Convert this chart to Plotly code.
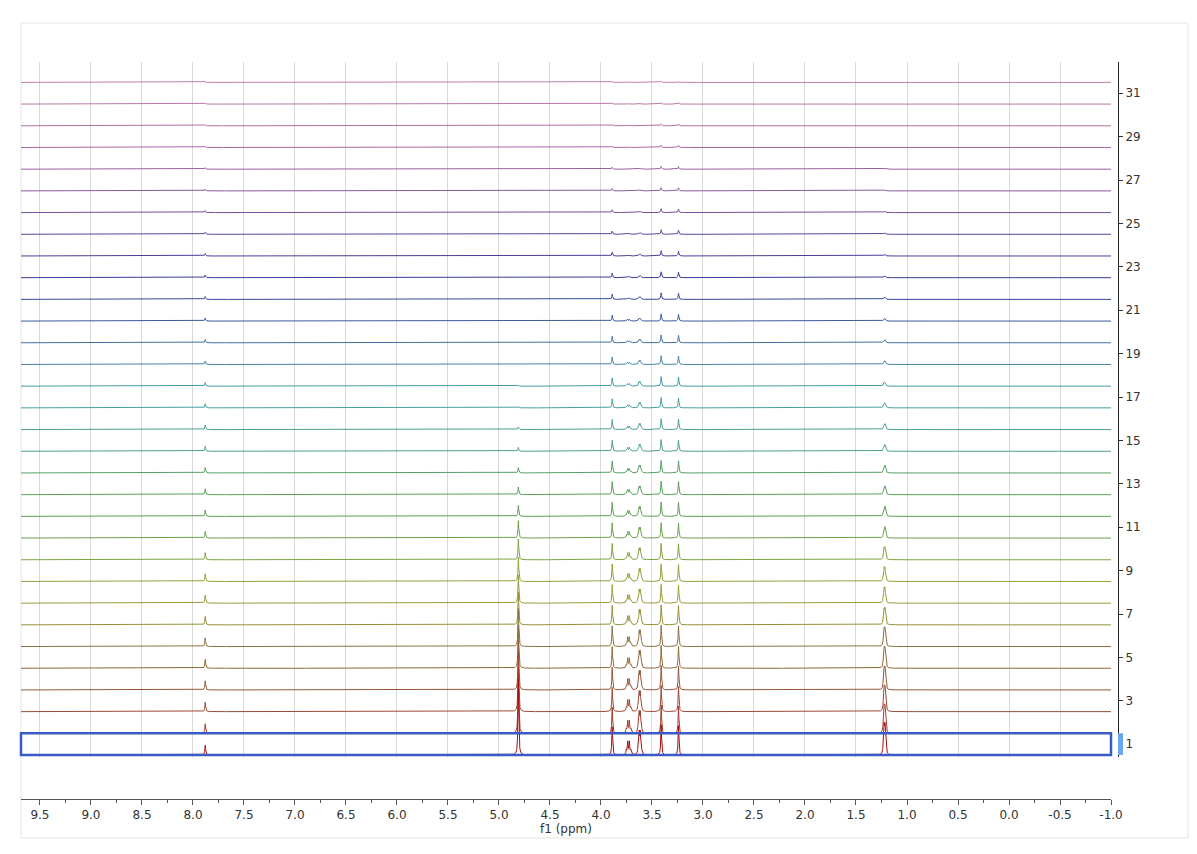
import numpy as np
import plotly.graph_objects as go

# peak centres (ppm) of the stacked 1H spectra
peak_ppm = [7.88, 4.81, 3.89, 3.73, 3.62, 3.41, 3.24, 1.22]

# peak heights per spectrum (1..32), in units of the stacking offset
h_788 = [0.45, 0.44, 0.43, 0.42, 0.41, 0.40, 0.39, 0.37, 0.35, 0.33, 0.31, 0.29, 0.27, 0.25, 0.23, 0.21,
         0.19, 0.17, 0.16, 0.15, 0.14, 0.13, 0.12, 0.11, 0.10, 0.09, 0.08, 0.07, 0.06, 0.05, 0.05, 0.04]
h_481 = [3.5, 3.05, 2.65, 2.3, 2.0, 1.75, 1.5, 1.3, 1.12, 0.95, 0.8, 0.5, 0.35, 0.25, 0.18, 0.12,
         0.07, 0.04, 0.02, 0.01, 0.0, 0.0, 0.0, 0.0, 0.0, 0.0, 0.0, 0.0, 0.0, 0.0, 0.0, 0.0]
h_389 = [1.3, 1.2, 1.12, 1.05, 1.0, 0.95, 0.9, 0.85, 0.8, 0.75, 0.7, 0.65, 0.6, 0.55, 0.5, 0.46,
         0.42, 0.38, 0.34, 0.3, 0.27, 0.24, 0.21, 0.18, 0.15, 0.13, 0.11, 0.09, 0.07, 0.06, 0.05, 0.04]
h_373 = [0.65, 0.6, 0.56, 0.52, 0.48, 0.45, 0.42, 0.39, 0.36, 0.33, 0.3, 0.27, 0.24, 0.21, 0.18, 0.16,
         0.14, 0.12, 0.1, 0.09, 0.08, 0.07, 0.06, 0.05, 0.04, 0.035, 0.03, 0.025, 0.02, 0.02, 0.015, 0.015]
h_362 = [1.15, 1.05, 0.97, 0.9, 0.83, 0.77, 0.71, 0.65, 0.6, 0.55, 0.5, 0.45, 0.4, 0.36, 0.32, 0.28,
         0.25, 0.22, 0.19, 0.16, 0.14, 0.12, 0.1, 0.085, 0.07, 0.06, 0.05, 0.04, 0.035, 0.03, 0.025, 0.02]
h_341 = [1.4, 1.3, 1.2, 1.12, 1.05, 0.98, 0.92, 0.86, 0.8, 0.75, 0.7, 0.66, 0.62, 0.58, 0.54, 0.5,
         0.47, 0.44, 0.4, 0.36, 0.33, 0.3, 0.27, 0.24, 0.21, 0.18, 0.15, 0.13, 0.11, 0.09, 0.07, 0.06]
h_324 = [1.35, 1.25, 1.16, 1.08, 1.01, 0.95, 0.89, 0.83, 0.78, 0.73, 0.68, 0.64, 0.6, 0.56, 0.52, 0.48,
         0.45, 0.42, 0.38, 0.34, 0.31, 0.28, 0.25, 0.22, 0.19, 0.16, 0.14, 0.12, 0.1, 0.08, 0.07, 0.05]
h_122 = [1.5, 1.35, 1.22, 1.1, 1.0, 0.9, 0.82, 0.75, 0.68, 0.6, 0.53, 0.47, 0.41, 0.36, 0.31, 0.27,
         0.23, 0.2, 0.17, 0.14, 0.12, 0.1, 0.08, 0.07, 0.06, 0.05, 0.04, 0.035, 0.03, 0.025, 0.02, 0.02]
heights = [h_788, h_481, h_389, h_373, h_362, h_341, h_324, h_122]

# multiplet line offsets (ppm) and relative intensities
mult_offsets = [[0], [0], [0], [-0.022, -0.008, 0.008, 0.022], [-0.016, -0.005, 0.005, 0.016], [0], [0],
                [-0.012, -0.004, 0.004, 0.012]]
mult_weights = [[1], [1], [1], [1, 3, 3, 1], [1, 3, 3, 1], [1], [1], [1, 3, 3, 1]]

spectrum_labels = [str(i) for i in range(1, 33)]
y_tick_labels = [str(i) for i in range(1, 32, 2)]
x_tick_vals = [9.5, 9.0, 8.5, 8.0, 7.5, 7.0, 6.5, 6.0, 5.5, 5.0, 4.5, 4.0, 3.5, 3.0, 2.5, 2.0, 1.5, 1.0,
               0.5, 0.0, -0.5, -1.0]
x_tick_labels = ['%.1f' % v for v in x_tick_vals]

colors = ['#a50d0d', '#a03a2a', '#9a4a36', '#95553a', '#8f6a3a', '#8a7040', '#959035', '#9a9a38',
          '#8ea33a', '#7ea33f', '#6aa048', '#5e9e52', '#58a05a', '#55a065', '#4fa080', '#48a090',
          '#45a0a0', '#4598a8', '#4585a5', '#4070a0', '#3a5a9c', '#35489a', '#383c98', '#4a3c9a',
          '#5a449c', '#70509e', '#8a5aa0', '#9a60a0', '#a868a2', '#b070a2', '#b878a5', '#c080a8']

# ppm grid: coarse everywhere, fine around the peaks
grid = [np.arange(-1.0, 9.7, 0.01)]
for c in peak_ppm:
    grid.append(np.arange(c - 0.12, c + 0.12, 0.001))
ppm = np.unique(np.round(np.concatenate(grid), 4))[::-1]

# normalised line shape of each multiplet (Lorentzian lines)
lw = 0.0045
shapes_norm = []
for c, offs, wts in zip(peak_ppm, mult_offsets, mult_weights):
    s = np.zeros_like(ppm)
    for o, w in zip(offs, wts):
        s += w * lw ** 2 / ((ppm - c - o) ** 2 + lw ** 2)
    shapes_norm.append(s / s.max())

fig = go.Figure()

# draw the top spectrum first so lower ones sit on top
for k in range(31, -1, -1):
    y = np.full_like(ppm, float(k))
    for p in range(len(peak_ppm)):
        y = y + heights[p][k] * shapes_norm[p]
    fig.add_trace(go.Scatter(x=ppm, y=y, mode='lines', name=spectrum_labels[k],
                             line=dict(color=colors[k], width=1), hoverinfo='skip'))

# the page body adds 8px around the figure, so margins are 8px smaller
fig.update_layout(
    width=1197, height=854,
    margin=dict(l=13, r=87, t=54, b=63),
    paper_bgcolor='white', plot_bgcolor='white',
    showlegend=False,
    font=dict(family='DejaVu Sans', size=12, color='#333'),
    xaxis=dict(
        range=[9.686, -1.0], domain=[0, 0.99362], anchor='free', position=0,
        showgrid=True, gridcolor='#d9d9d9', gridwidth=1,
        tickvals=x_tick_vals, ticktext=x_tick_labels,
        ticks='outside', ticklen=5, tickcolor='#555',
        minor=dict(dtick=0.25, tick0=0, ticks='outside', ticklen=3, tickcolor='#555', showgrid=False),
        showline=True, linecolor='#555', zeroline=False,
        title=dict(text='f1 (ppm)', standoff=0, font=dict(size=12)),
    ),
    yaxis=dict(
        range=[-0.1, 31.94], domain=[0.0567, 1], side='right', anchor='free', position=1.0,
        showgrid=False, zeroline=False,
        tickvals=[i - 0.5 for i in range(1, 32, 2)], ticktext=y_tick_labels,
        ticks='outside', ticklen=4, tickcolor='#333',
        showline=True, linecolor='#222',
    ),
)

# outer frame
fig.add_shape(type='rect', xref='paper', yref='paper', x0=0, x1=1.0638, y0=-0.0529, y1=1.0529,
              line=dict(color='#e4e4e4', width=1), layer='below')
# highlighted spectrum 1
fig.add_shape(type='rect', xref='x domain', yref='y', x0=0, x1=1, y0=0, y1=1,
              line=dict(color='#3a5bc7', width=2.5))
fig.add_shape(type='rect', xref='paper', yref='y', x0=1.0, x1=1.0046, y0=0, y1=1,
              line=dict(width=0), fillcolor='#6aa8ee')

fig.write_html("out.html")
